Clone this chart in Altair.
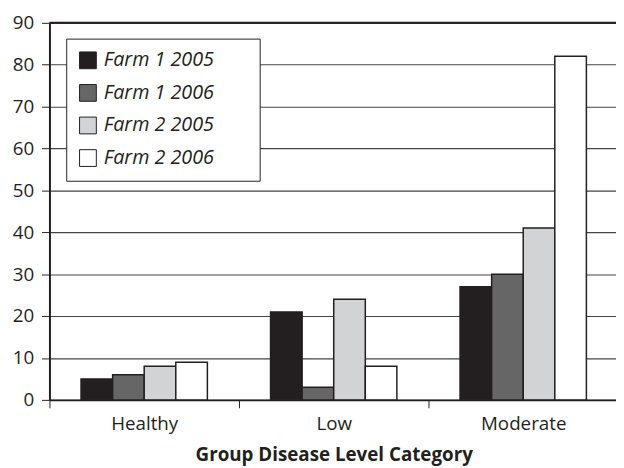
import altair as alt
import pandas as pd

categories = ["Healthy", "Low", "Moderate"]
series = ["Farm 1 2005", "Farm 1 2006", "Farm 2 2005", "Farm 2 2006"]
farm1_2005 = [5, 21, 27]
farm1_2006 = [6, 3, 30]
farm2_2005 = [8, 24, 41]
farm2_2006 = [9, 8, 82]
colors = ["#231f20", "#666666", "#d1d3d4", "#ffffff"]
y_ticks = list(range(0, 91, 10))

rows = []
for s, vals in zip(series, [farm1_2005, farm1_2006, farm2_2005, farm2_2006]):
    for c, v in zip(categories, vals):
        rows.append({"category": c, "series": s, "value": v})
df = pd.DataFrame(rows)

FONT = "Open Sans"
DARK = "#231f20"

bars = alt.Chart(df).mark_bar(stroke=DARK, strokeWidth=1.5).encode(
    x=alt.X(
        "category:N",
        sort=categories,
        scale=alt.Scale(domain=categories, range=[0, 576], paddingInner=0, paddingOuter=0),
        axis=alt.Axis(
            title="Group Disease Level Category",
            titleFont=FONT, titleFontSize=19, titleFontWeight="bold", titleColor=DARK,
            titlePadding=12,
            labelFont=FONT, labelFontSize=19, labelColor=DARK, labelAngle=0, labelPadding=7,
            tickBand="extent", tickSize=8, tickColor=DARK, tickWidth=1,
            domainColor=DARK, domainWidth=2,
        ),
    ),
    xOffset=alt.XOffset(
        "series:N",
        sort=series,
        scale=alt.Scale(domain=series, paddingInner=0, paddingOuter=1),
    ),
    y=alt.Y(
        "value:Q",
        scale=alt.Scale(domain=[0, 90], nice=False),
        axis=alt.Axis(
            title=None, values=y_ticks,
            labelFont=FONT, labelFontSize=19, labelColor=DARK, labelPadding=8,
            tickSize=8, tickColor=DARK, tickWidth=1,
            domainColor=DARK, domainWidth=2,
            grid=True, gridColor="#444444", gridWidth=1.2,
        ),
    ),
    color=alt.Color(
        "series:N",
        sort=series,
        scale=alt.Scale(domain=series, range=colors),
        legend=alt.Legend(
            title="MMM",
            titleOrient="right",
            titleColor="white",
            titleFontSize=12,
            titleFontWeight="normal",
            titlePadding=4,
            orient="none", legendX=17, legendY=16,
            fillColor="white", strokeColor=DARK, padding=12,
            symbolType="square", symbolSize=289,
            symbolStrokeColor=DARK, symbolStrokeWidth=1,
            labelFont=FONT, labelFontSize=20, labelFontStyle="italic", labelColor=DARK,
            labelOffset=6, rowPadding=11,
        ),
    ),
)

top_rule = alt.Chart(pd.DataFrame({"v": [90]})).mark_rule(color=DARK, strokeWidth=2).encode(
    y=alt.Y("v:Q", scale=alt.Scale(domain=[0, 90], nice=False))
)

chart = alt.layer(bars, top_rule).properties(
    width=574, height=382,
    autosize=alt.AutoSizeParams(type="none"),
    padding={"left": 42, "top": 12, "right": 0, "bottom": 66},
).configure_view(stroke=None)

chart.save("out.html", embed_options={"renderer": "svg", "actions": False})
